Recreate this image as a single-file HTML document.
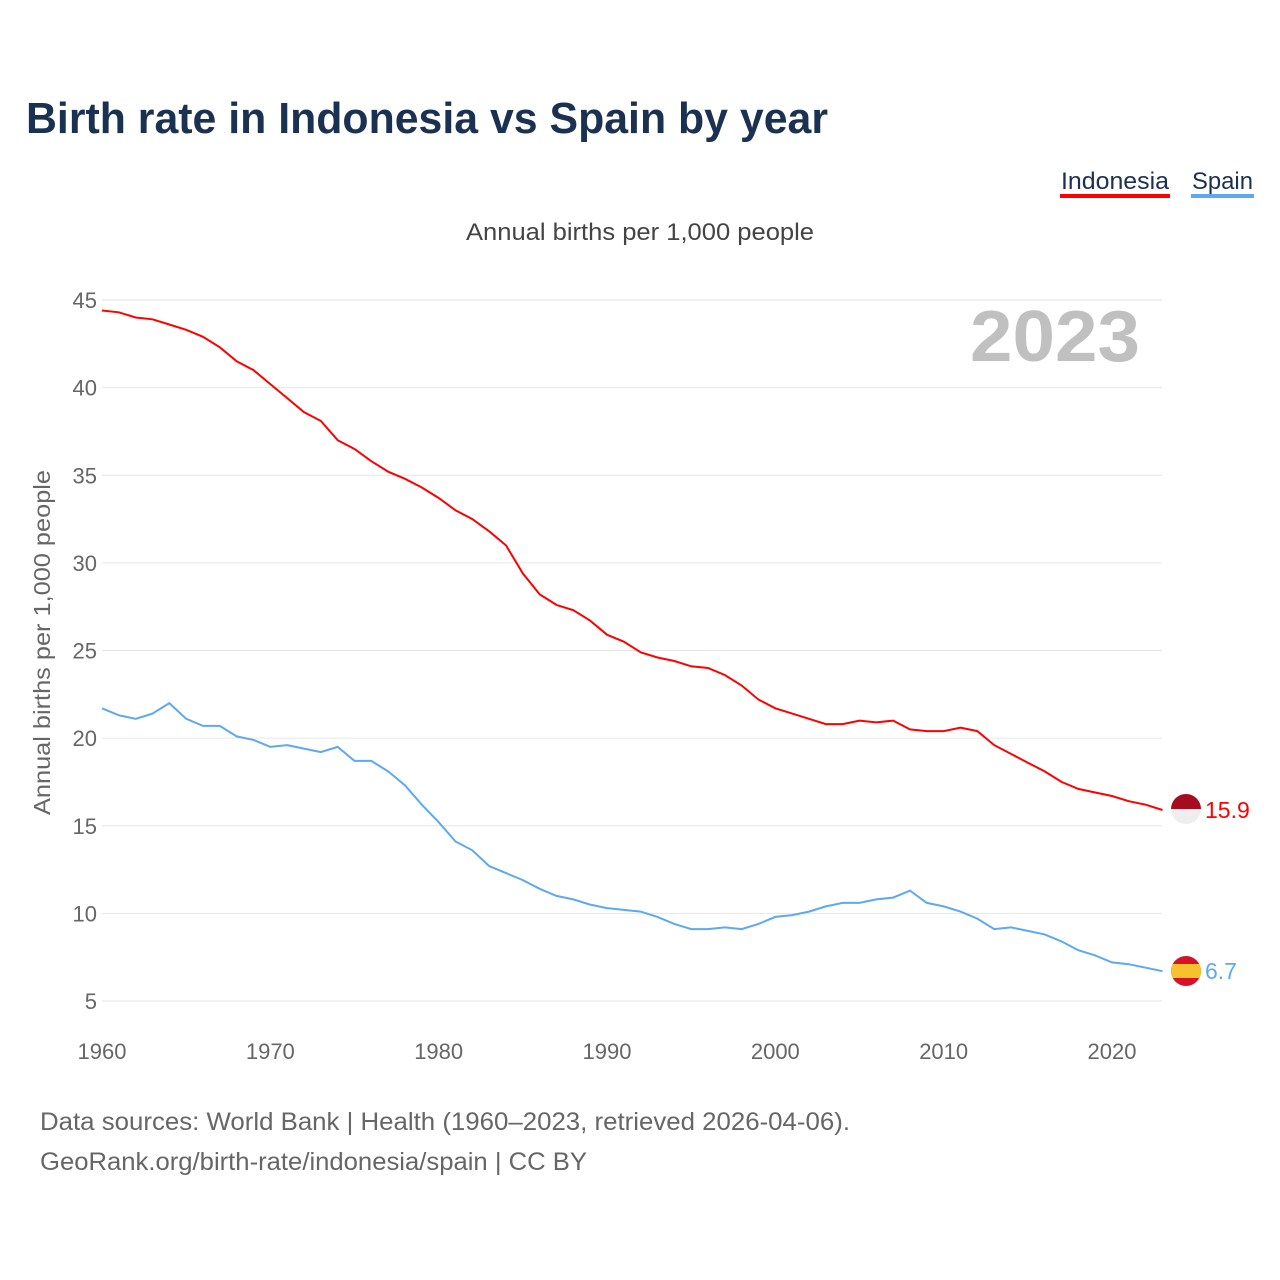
<!DOCTYPE html>
<html><head><meta charset="utf-8"><style>
body{margin:0;background:#fff;font-family:"Liberation Sans",sans-serif;}
#wrap{position:relative;width:1280px;height:1280px;overflow:hidden;}
</style></head><body>
<div id="wrap">
<svg id="chart" width="1280" height="1280">
<text x="26" y="133" font-size="44" font-weight="bold" fill="#1b3151" textLength="802" lengthAdjust="spacingAndGlyphs">Birth rate in Indonesia vs Spain by year</text>
<g><text x="1061" y="189" font-size="24" fill="#1b3151" textLength="108" lengthAdjust="spacingAndGlyphs">Indonesia</text><rect x="1060" y="194" width="110" height="4" fill="#ff0000"/></g>
<g><text x="1192" y="189" font-size="24" fill="#1b3151" textLength="61" lengthAdjust="spacingAndGlyphs">Spain</text><rect x="1191" y="194" width="63" height="4" fill="#5da9f0"/></g>
<text x="466" y="240" font-size="24" fill="#444" textLength="348" lengthAdjust="spacingAndGlyphs">Annual births per 1,000 people</text>
<text x="1140" y="361" font-size="72" font-weight="bold" fill="#c0c0c0" text-anchor="end" textLength="170" lengthAdjust="spacingAndGlyphs">2023</text>
<text transform="translate(50,815) rotate(-90)" font-size="23" fill="#666" textLength="345" lengthAdjust="spacingAndGlyphs">Annual births per 1,000 people</text>
<g id="grid"></g><g id="lines"></g>
<text x="40" y="1130" font-size="25" fill="#666" textLength="810" lengthAdjust="spacingAndGlyphs">Data sources: World Bank | Health (1960–2023, retrieved 2026-04-06).</text>
<text x="40" y="1170" font-size="25" fill="#666" textLength="547" lengthAdjust="spacingAndGlyphs">GeoRank.org/birth-rate/indonesia/spain | CC BY</text>
<defs>
<clipPath id="c1"><circle cx="1186" cy="809" r="15"/></clipPath>
<clipPath id="c2"><circle cx="1186" cy="971" r="15"/></clipPath>
</defs>
<g clip-path="url(#c1)"><rect x="1170" y="793" width="32" height="16" fill="#a50d1e"/><rect x="1170" y="809" width="32" height="16" fill="#eeeeee"/></g>
<g clip-path="url(#c2)"><rect x="1170" y="955" width="32" height="32" fill="#d8102a"/><rect x="1170" y="964" width="32" height="14" fill="#f5c32c"/></g>
</svg>
</div>
<script>
const years=[];for(let y=1960;y<=2023;y++)years.push(y);
const indonesia=[44.4,44.3,44.0,43.9,43.6,43.3,42.9,42.3,41.5,41.0,40.2,39.4,38.6,38.1,37.0,36.5,35.8,35.2,34.8,34.3,33.7,33.0,32.5,31.8,31.0,29.4,28.2,27.6,27.3,26.7,25.9,25.5,24.9,24.6,24.4,24.1,24.0,23.6,23.0,22.2,21.7,21.4,21.1,20.8,20.8,21.0,20.9,21.0,20.5,20.4,20.4,20.6,20.4,19.6,19.1,18.6,18.1,17.5,17.1,16.9,16.7,16.4,16.2,15.9];
const spain=[21.7,21.3,21.1,21.4,22.0,21.1,20.7,20.7,20.1,19.9,19.5,19.6,19.4,19.2,19.5,18.7,18.7,18.1,17.3,16.2,15.2,14.1,13.6,12.7,12.3,11.9,11.4,11.0,10.8,10.5,10.3,10.2,10.1,9.8,9.4,9.1,9.1,9.2,9.1,9.4,9.8,9.9,10.1,10.4,10.6,10.6,10.8,10.9,11.3,10.6,10.4,10.1,9.7,9.1,9.2,9.0,8.8,8.4,7.9,7.6,7.2,7.1,6.9,6.7];
const yTicks=[5,10,15,20,25,30,35,40,45];
const xTicks=[1960,1970,1980,1990,2000,2010,2020];
const ns="http://www.w3.org/2000/svg";
const X=v=>102+(v-1960)*(1010/60);
const Y=v=>1001-(v-5)*(701/40);
const grid=document.getElementById('grid'),lines=document.getElementById('lines');
function mk(tag,attrs,parent){const e=document.createElementNS(ns,tag);for(const k in attrs)e.setAttribute(k,attrs[k]);parent.appendChild(e);return e;}
yTicks.forEach(t=>{
 const l=mk('line',{x1:102,x2:1162,y1:Y(t),y2:Y(t),stroke:'#e6e6e6','stroke-width':1},grid);
 
 
 const tx=mk('text',{x:97,y:Y(t)+8,'font-size':22,fill:'#666','text-anchor':'end'},grid);tx.textContent=t;
 
 
});
xTicks.forEach(t=>{
 const tx=mk('text',{x:X(t),y:1059,'font-size':22,fill:'#666','text-anchor':'middle'},grid);tx.textContent=t;
 
 
});
function series(data,color,name){
 const p=mk('path',{d:data.map((v,i)=>(i?'L':'M')+X(years[i]).toFixed(1)+','+Y(v).toFixed(1)).join(''),fill:'none',stroke:color,'stroke-width':2},lines);
 
 
 const last=data[data.length-1];
 const t=mk('text',{x:1205,y:Y(last)+8,'font-size':23,fill:color},lines);t.textContent=last;
 
 
}
series(indonesia,'#ff0000','indonesia');
series(spain,'#5da9f0','spain');
</script>
</body></html>
